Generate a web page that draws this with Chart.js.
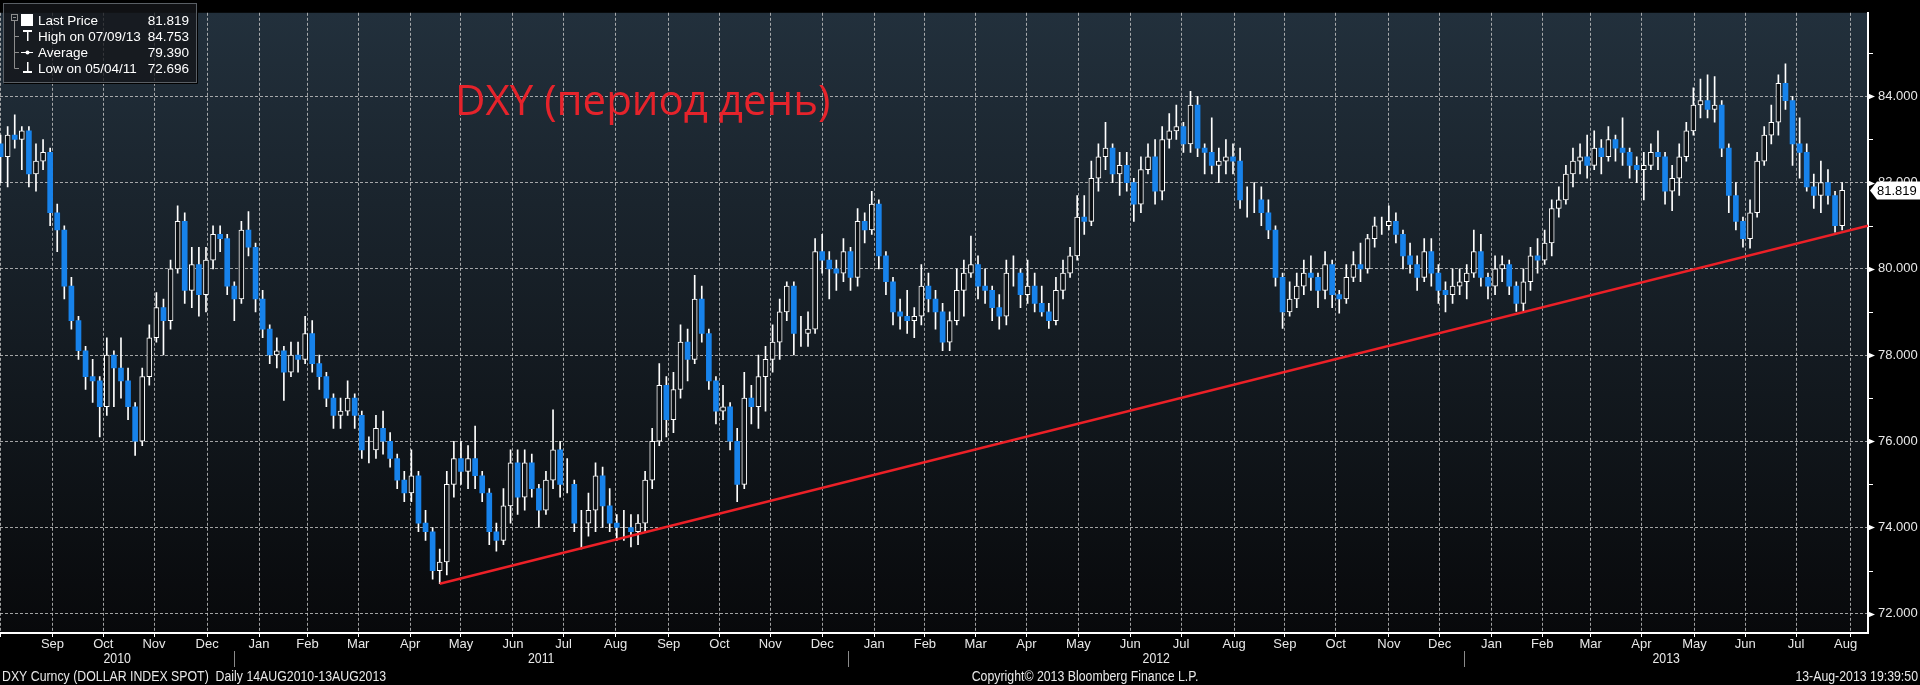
<!DOCTYPE html>
<html>
<head>
<meta charset="utf-8">
<title>DXY Curncy</title>
<script src="https://cdn.jsdelivr.net/npm/chart.js@4.4.1/dist/chart.umd.min.js"></script>
<style>
  html, body { margin: 0; padding: 0; background: #000; overflow: hidden; }
  #wrap { width: 1920px; height: 685px; }
</style>
</head>
<body>
<div id="wrap"><canvas id="chart" width="1920" height="685"></canvas></div>
<script>
const opens = [
  82.9,82.6,83.1,83.0,83.2,82.2,82.5,82.7,81.3,80.9, 79.6,78.8,78.1,77.5,77.4,76.8,78.0,77.7,77.4,76.8,
  76.0,77.5,78.4,79.1,78.8,80.0,81.1,79.5,80.1,79.4, 80.2,80.8,80.7,79.6,79.3,80.9,80.5,79.3,78.6,78.0,
  78.1,77.6,78.0,77.9,78.5,77.8,77.5,77.0,76.6,76.7, 77.0,76.6,75.8,75.8,76.3,76.0,75.6,75.1,74.8,75.2,
  74.1,73.9,73.0,73.2,75.0,75.6,75.3,75.6,75.2,74.8, 73.9,73.7,74.5,75.5,74.7,75.5,74.9,74.4,75.1,75.8,
  75.0,75.0,74.1,74.1,74.4,75.2,74.5,74.1,74.0,74.0, 73.9,74.1,75.1,76.0,77.3,76.5,77.2,78.3,77.9,79.3,
  78.5,77.4,76.7,76.8,76.0,75.0,77.0,76.8,77.5,77.9, 78.3,79.0,79.6,78.5,78.5,78.6,80.4,80.2,80.0,79.9,
  80.4,79.8,81.1,80.9,81.5,80.3,79.7,79.0,78.9,78.8, 78.9,79.6,79.3,79.0,78.3,78.8,79.5,79.9,80.1,79.6,
  79.5,79.1,78.9,79.9,79.9,79.4,79.6,79.2,79.0,78.8, 79.5,79.9,80.3,81.2,81.1,82.1,82.6,82.8,82.2,82.4,
  82.0,81.5,82.3,82.6,81.8,83.0,83.2,83.3,82.9,83.8, 82.8,82.7,82.4,82.5,82.6,82.5,81.6,81.6,81.6,81.3,
  80.9,79.8,79.0,79.3,79.6,79.9,79.8,79.5,80.1,79.4, 79.3,79.8,80.1,80.0,80.7,81.0,81.0,81.1,80.8,80.3,
  80.1,79.8,80.4,79.9,79.5,79.4,79.6,79.7,79.9,80.4, 79.8,79.6,80.0,80.1,79.6,79.2,79.7,80.3,80.2,80.6,
  81.4,81.6,82.2,82.5,82.6,82.4,82.8,82.6,83.0,82.8, 82.7,82.4,82.3,82.4,82.7,82.6,81.8,82.1,82.6,83.2,
  83.8,83.9,83.7,83.8,82.8,81.7,81.1,80.7,81.3,82.5, 83.1,83.4,84.3,83.9,82.9,82.7,81.9,81.7,82.0,81.7,
  81.0
];
const highs = [
  83.1,83.3,83.57,83.3,83.3,82.9,83.0,82.8,81.5,81.0, 79.8,78.9,78.2,77.9,77.5,78.4,78.1,78.4,77.7,76.9,
  77.7,78.7,79.45,79.3,80.2,81.46,81.3,80.5,80.5,80.5, 81.0,81.0,80.8,79.7,81.1,81.33,80.6,79.5,78.7,78.4,
  78.2,78.3,78.3,78.9,78.8,78.0,77.6,77.1,77.0,77.4, 77.1,76.7,76.1,76.6,76.7,76.2,75.7,75.3,75.8,75.3,
  74.4,74.0,73.5,75.3,76.0,76.0,75.9,76.35,75.3,74.9, 74.1,74.9,75.8,75.8,75.8,75.7,75.0,75.3,76.73,76.0,
  75.6,75.1,74.4,74.8,75.5,75.4,74.9,74.3,74.4,74.3, 74.3,75.3,76.3,77.8,77.5,77.6,78.7,78.6,79.85,79.6,
  78.6,77.5,77.3,76.9,76.3,77.6,77.3,78.0,78.2,78.7, 79.3,79.7,79.7,78.9,79.0,80.7,80.8,80.4,80.2,80.7,
  80.5,81.4,81.3,81.8,81.6,80.4,79.8,79.3,79.5,79.1, 80.1,79.9,79.5,79.2,79.0,80.0,80.2,80.76,80.3,80.0,
  79.6,79.4,80.2,80.3,80.0,80.2,79.9,79.6,79.2,79.8, 80.2,80.5,81.7,81.7,82.5,82.9,83.4,82.9,82.7,82.7,
  82.1,82.6,82.9,83.0,83.3,83.6,83.8,83.4,84.12,84.0, 82.9,83.5,82.8,83.0,82.9,82.8,81.9,82.0,81.9,81.6,
  81.0,79.9,79.7,79.9,80.2,80.3,79.9,80.4,80.2,79.5, 80.1,80.4,80.6,80.8,81.2,81.2,81.46,81.3,80.9,80.6,
  80.3,80.7,80.7,80.1,79.7,80.0,80.0,80.1,80.9,80.8, 79.9,80.3,80.3,80.2,79.7,80.0,80.5,80.7,80.9,81.6,
  81.9,82.4,82.8,82.9,83.1,83.2,83.0,83.3,83.1,83.5, 82.8,82.6,82.7,82.9,83.2,82.7,82.4,82.9,83.4,84.2,
  84.4,84.5,84.46,83.9,82.9,82.0,81.2,81.6,82.7,83.3, 83.8,84.5,84.753,84.0,83.5,82.9,82.2,82.5,82.3,81.8,
  82.0
];
const lows = [
  82.0,81.9,82.8,82.3,81.9,81.8,82.3,81.0,80.4,79.3, 78.6,77.9,77.2,76.9,76.1,76.6,76.8,77.0,76.5,75.67,
  75.9,77.3,78.3,78.0,78.6,79.9,79.2,79.1,78.9,79.0, 80.0,80.4,79.4,78.8,79.2,80.3,79.0,78.4,77.8,77.7,
  76.95,77.5,77.6,77.8,77.6,77.2,76.8,76.3,76.3,76.6, 76.3,75.6,75.5,75.6,75.7,75.4,74.9,74.6,74.6,73.9,
  73.7,72.8,72.696,72.9,74.7,75.0,74.9,74.9,74.6,73.6, 73.45,73.6,74.1,74.3,74.4,74.7,74.0,74.3,74.9,74.7,
  74.8,73.9,73.5,73.8,73.9,74.0,73.9,73.7,73.7,73.55, 73.6,73.9,74.9,75.9,76.1,76.2,77.0,77.4,77.8,78.3,
  77.2,76.4,76.5,75.8,74.6,74.9,76.4,76.3,76.7,77.6, 77.9,78.8,78.0,78.2,78.2,78.5,79.9,79.3,79.5,79.7,
  79.5,79.6,80.6,80.8,80.0,79.4,78.7,78.6,78.5,78.4, 78.7,79.0,78.6,78.1,78.1,78.7,78.9,79.8,79.3,79.2,
  78.8,78.6,78.7,79.6,79.1,79.2,79.0,78.9,78.62,78.7, 79.3,79.8,80.2,80.8,81.0,81.8,82.3,82.0,81.7,81.8,
  81.1,81.3,82.2,81.5,81.6,82.8,83.0,82.7,82.7,82.6, 82.2,82.2,82.0,82.2,82.2,81.4,81.2,81.3,81.0,80.7,
  79.6,78.62,78.9,79.1,79.4,79.5,79.1,79.3,79.1,78.97, 79.2,79.7,79.7,79.9,80.5,80.8,80.9,80.6,80.0,79.9,
  79.5,79.7,79.6,79.2,79.0,79.2,79.4,79.3,79.8,79.6, 79.3,79.4,79.7,79.4,79.01,79.0,79.5,79.9,80.1,80.3,
  81.2,81.5,81.9,82.2,82.1,82.3,82.2,82.5,82.5,82.4, 82.1,82.0,81.6,82.3,82.3,81.5,81.35,81.7,82.5,83.1,
  83.5,83.5,83.4,82.6,81.3,80.9,80.5,80.48,81.2,82.4, 82.9,83.1,83.7,82.4,82.1,81.8,81.4,81.3,81.5,80.85,
  80.9
];
const closes = [
  82.6,83.1,83.0,83.2,82.2,82.5,82.7,81.3,80.9,79.6, 78.8,78.1,77.5,77.4,76.8,78.0,77.7,77.4,76.8,76.0,
  77.5,78.4,79.1,78.8,80.0,81.1,79.5,80.1,79.4,80.2, 80.8,80.7,79.6,79.3,80.9,80.5,79.3,78.6,78.0,78.1,
  77.6,78.0,77.9,78.5,77.8,77.5,77.0,76.6,76.7,77.0, 76.6,75.8,75.8,76.3,76.0,75.6,75.1,74.8,75.2,74.1,
  73.9,73.0,73.2,75.0,75.6,75.3,75.6,75.2,74.8,73.9, 73.7,74.5,75.5,74.7,75.5,74.9,74.4,75.1,75.8,75.0,
  75.0,74.1,74.1,74.4,75.2,74.5,74.1,74.0,74.0,73.9, 74.1,75.1,76.0,77.3,76.5,77.2,78.3,77.9,79.3,78.5,
  77.4,76.7,76.8,76.0,75.0,77.0,76.8,77.5,77.9,78.3, 79.0,79.6,78.5,78.5,78.6,80.4,80.2,80.0,79.9,80.4,
  79.8,81.1,80.9,81.5,80.3,79.7,79.0,78.9,78.8,78.9, 79.6,79.3,79.0,78.3,78.8,79.5,79.9,80.1,79.6,79.5,
  79.1,78.9,79.9,79.9,79.4,79.6,79.2,79.0,78.8,79.5, 79.9,80.3,81.2,81.1,82.1,82.6,82.8,82.2,82.4,82.0,
  81.5,82.3,82.6,81.8,83.0,83.2,83.3,82.9,83.8,82.8, 82.7,82.4,82.5,82.6,82.5,81.6,81.6,81.6,81.3,80.9,
  79.8,79.0,79.3,79.6,79.9,79.8,79.5,80.1,79.4,79.3, 79.8,80.1,80.0,80.7,81.0,81.0,81.1,80.8,80.3,80.1,
  79.8,80.4,79.9,79.5,79.4,79.6,79.7,79.9,80.4,79.8, 79.6,80.0,80.1,79.6,79.2,79.7,80.3,80.2,80.6,81.4,
  81.6,82.2,82.5,82.6,82.4,82.8,82.6,83.0,82.8,82.7, 82.4,82.3,82.4,82.7,82.6,81.8,82.1,82.6,83.2,83.8,
  83.9,83.7,83.8,82.8,81.7,81.1,80.7,81.3,82.5,83.1, 83.4,84.3,83.9,82.9,82.7,81.9,81.7,82.0,81.7,81.0,
  81.819
];

const monthLabels = ['Sep','Oct','Nov','Dec','Jan','Feb','Mar','Apr','May','Jun','Jul','Aug',
                     'Sep','Oct','Nov','Dec','Jan','Feb','Mar','Apr','May','Jun','Jul','Aug',
                     'Sep','Oct','Nov','Dec','Jan','Feb','Mar','Apr','May','Jun','Jul','Aug'];
const yearLabels = ['2010','2011','2012','2013'];
const majorPrices = [72, 74, 76, 78, 80, 82, 84];
const minorPrices = [73, 75, 77, 79, 81, 83, 85];

// trend line through the 05/04/11 low (x in trading days from 16 Aug 2010)
const trendDays = [187, 792];
const trendValues = [72.696, 81.0];

const legendRows = [
  ['Last Price', '81.819'],
  ['High on 07/09/13', '84.753'],
  ['Average', '79.390'],
  ['Low on 05/04/11', '72.696']
];
const titleText = 'DXY (период день)';
const footerLeft = 'DXY Curncy (DOLLAR INDEX SPOT)  Daily 14AUG2010-13AUG2013';
const footerMid = 'Copyright\u00a9 2013 Bloomberg Finance L.P.';
const footerRight = '13-Aug-2013 19:39:50';

// axis ranges
const xMin = 0.76, xMax = 791.96;
const yMin = 71.552, yMax = 85.939;

const axisFamily = '"Liberation Sans", Arial, sans-serif';
const textColor = '#e8e8e8';
const gridColor = 'rgba(200,200,200,0.8)';
const upFill = '#0c1014';
const downFill = '#1782ea';

// weekday count from the first candle (Mon 16 Aug 2010)
const startT = Date.UTC(2010, 7, 16);
function dayIndex(y, m, d) {
  let t = Date.UTC(y, m, d);
  while ([0, 6].includes(new Date(t).getUTCDay())) t += 864e5;
  let n = 0;
  for (let s = startT; s < t; s += 864e5) {
    const wd = new Date(s).getUTCDay();
    if (wd !== 0 && wd !== 6) n++;
  }
  return n;
}

const monthStarts = monthLabels.map((_, i) => dayIndex(2010 + Math.floor((8 + i) / 12), (8 + i) % 12, 1));
const monthMids = monthStarts.map((d, i) => (d + (i + 1 < monthStarts.length ? monthStarts[i + 1] : xMax)) / 2);

const candleX = closes.map((c, i) => 3 * i + 1);
const isUp = closes.map((c, i) => c >= opens[i]);

// condensed text, the terminal font is narrower than anything installed
function narrowText(ctx, text, x, y, align) {
  const sx = 0.88;
  const w = ctx.measureText(text).width * sx;
  const left = align === 'center' ? x - w / 2 : align === 'right' ? x - w : x;
  ctx.save();
  ctx.textAlign = 'left';
  ctx.translate(left, y);
  ctx.scale(sx, 1);
  ctx.fillText(text, 0, 0);
  ctx.restore();
}

const chartBackground = {
  id: 'chartBackground',
  beforeDraw(chart) {
    const { ctx, chartArea: a } = chart;
    ctx.save();
    ctx.fillStyle = '#000';
    ctx.fillRect(0, 0, chart.width, chart.height);
    const g = ctx.createLinearGradient(0, a.top, 0, a.bottom);
    g.addColorStop(0, '#22303c');
    g.addColorStop(1, '#08090b');
    ctx.fillStyle = g;
    ctx.fillRect(a.left, a.top, a.right - a.left, a.bottom - a.top);
    ctx.restore();
  }
};

const bloombergDecor = {
  id: 'bloombergDecor',
  afterDraw(chart) {
    const { ctx, chartArea: a, scales: { x, y } } = chart;
    ctx.save();

    // flags and minor ticks on the price axis
    ctx.fillStyle = '#fff';
    majorPrices.forEach(v => {
      const py = Math.round(y.getPixelForValue(v)) + 0.5;
      ctx.beginPath();
      ctx.moveTo(a.right, py - 3);
      ctx.lineTo(a.right + 7, py);
      ctx.lineTo(a.right, py + 3);
      ctx.closePath();
      ctx.fill();
    });
    minorPrices.forEach(v => {
      const py = Math.round(y.getPixelForValue(v));
      ctx.fillRect(a.right, py, 5, 1);
    });

    // last price tag
    const last = closes[closes.length - 1];
    const ly = y.getPixelForValue(last);
    ctx.beginPath();
    ctx.moveTo(a.right + 2, ly);
    ctx.lineTo(a.right + 9, ly - 9);
    ctx.lineTo(chart.width, ly - 9);
    ctx.lineTo(chart.width, ly + 9);
    ctx.lineTo(a.right + 9, ly + 9);
    ctx.closePath();
    ctx.fill();
    ctx.fillStyle = '#000';
    ctx.font = '13px ' + axisFamily;
    ctx.textAlign = 'left';
    ctx.textBaseline = 'middle';
    ctx.fillText(last.toFixed(3), a.right + 9, ly + 1);

    // years under the months
    ctx.fillStyle = textColor;
    ctx.font = '14px ' + axisFamily;
    const jan = yearLabels.slice(1).map(yr => dayIndex(+yr, 0, 1));
    const bounds = [xMin, ...jan, xMax];
    yearLabels.forEach((yr, k) => {
      const cx = (x.getPixelForValue(bounds[k]) + x.getPixelForValue(bounds[k + 1])) / 2;
      narrowText(ctx, yr, cx, 659, 'center');
    });
    ctx.strokeStyle = '#8a8a8a';
    ctx.lineWidth = 1;
    jan.forEach(d => {
      const px = Math.round(x.getPixelForValue(d)) + 0.5;
      ctx.beginPath();
      ctx.moveTo(px, 651);
      ctx.lineTo(px, 667);
      ctx.stroke();
    });

    // footer
    narrowText(ctx, footerLeft, 2, 677, 'left');
    narrowText(ctx, footerMid, 1085, 677, 'center');
    narrowText(ctx, footerRight, 1918, 677, 'right');

    // legend box
    ctx.fillStyle = 'rgba(20,22,25,0.78)';
    ctx.fillRect(3, 3, 194, 80);
    ctx.strokeStyle = '#5a5f65';
    ctx.strokeRect(3.5, 3.5, 193, 79);
    ctx.strokeStyle = '#000';
    ctx.beginPath();
    ctx.moveTo(197.5, 4); ctx.lineTo(197.5, 83.5); ctx.lineTo(4, 83.5);
    ctx.stroke();

    ctx.strokeStyle = '#8c8c8c';
    ctx.strokeRect(11.5, 14.5, 6, 6);
    ctx.beginPath();
    ctx.moveTo(13, 17.5); ctx.lineTo(16, 17.5);
    ctx.moveTo(14.5, 21); ctx.lineTo(14.5, 68.5);
    [36.5, 52.5, 68.5].forEach(ry => { ctx.moveTo(14.5, ry); ctx.lineTo(19, ry); });
    ctx.stroke();

    ctx.fillStyle = '#fff';
    ctx.fillRect(21, 14, 12, 12);
    ctx.fillRect(23, 30, 9, 2);
    ctx.fillRect(27, 30, 1.5, 11);
    ctx.fillRect(21, 52, 12, 1);
    ctx.beginPath();
    ctx.arc(27.5, 52.5, 2, 0, Math.PI * 2);
    ctx.fill();
    ctx.fillRect(27, 62, 1.5, 10);
    ctx.fillRect(23, 71, 9, 2);

    ctx.font = '13.5px ' + axisFamily;
    ctx.textBaseline = 'alphabetic';
    legendRows.forEach((row, k) => {
      const by = 25 + k * 16;
      ctx.textAlign = 'left';
      ctx.fillText(row[0], 38, by);
      ctx.textAlign = 'right';
      ctx.fillText(row[1], 189, by);
    });

    // red caption
    ctx.fillStyle = '#e5232b';
    ctx.textAlign = 'left';
    ctx.font = '42px "Open Sans", "Noto Sans", sans-serif';
    ctx.fillText(titleText, 455, 115);

    ctx.restore();
  }
};

new Chart(document.getElementById('chart'), {
  type: 'bar',
  data: {
    datasets: [
      {
        type: 'line',
        xAxisID: 'x',
        yAxisID: 'y',
        data: trendDays.map((d, i) => ({ x: d, y: trendValues[i] })),
        borderColor: '#ec2027',
        borderWidth: 2.5,
        pointRadius: 0,
        order: 0
      },
      {
        xAxisID: 'x',
        yAxisID: 'y',
        data: candleX.map((d, i) => ({ x: d, y: [opens[i], closes[i]] })),
        backgroundColor: isUp.map(u => (u ? upFill : downFill)),
        borderColor: isUp.map(u => (u ? '#ffffff' : downFill)),
        borderWidth: isUp.map(u => (u ? 1 : 0)),
        borderSkipped: false,
        barThickness: 5,
        grouped: false,
        order: 1
      },
      {
        xAxisID: 'x',
        yAxisID: 'y',
        data: candleX.map((d, i) => ({ x: d, y: [lows[i], highs[i]] })),
        backgroundColor: '#ffffff',
        borderWidth: 0,
        barThickness: 1,
        grouped: false,
        order: 2
      }
    ]
  },
  options: {
    responsive: false,
    devicePixelRatio: 1,
    animation: false,
    layout: { padding: { left: 0, top: 0, right: 0, bottom: 30 } },
    plugins: { legend: { display: false }, tooltip: { enabled: false } },
    scales: {
      // month-start gridlines and tick marks
      x: {
        type: 'linear',
        position: 'bottom',
        weight: 0,
        min: xMin,
        max: xMax,
        bounds: 'data',
        offset: false,
        afterBuildTicks: s => { s.ticks = monthStarts.map(v => ({ value: v })); },
        afterFit: s => { s.height = 4; },
        grid: { color: gridColor, lineWidth: 1, tickColor: '#ffffff', tickLength: 4 },
        border: { color: '#ffffff', width: 2, dash: [3, 2] },
        ticks: { display: false, autoSkip: false }
      },
      // month names centred in each month
      xl: {
        type: 'linear',
        position: 'bottom',
        weight: 1,
        min: xMin,
        max: xMax,
        bounds: 'data',
        offset: false,
        afterBuildTicks: s => { s.ticks = monthMids.map(v => ({ value: v })); },
        afterFit: s => { s.height = 18; },
        grid: { display: false, drawTicks: false },
        border: { display: false },
        ticks: {
          autoSkip: false,
          maxRotation: 0,
          padding: 0,
          color: textColor,
          font: { family: axisFamily, size: 13, lineHeight: 1.1 },
          callback: (v, i) => monthLabels[i]
        }
      },
      y: {
        type: 'linear',
        position: 'right',
        min: yMin,
        max: yMax,
        bounds: 'data',
        afterBuildTicks: s => { s.ticks = majorPrices.map(v => ({ value: v })); },
        afterFit: s => { s.width = 52; },
        grid: { color: gridColor, lineWidth: 1, tickColor: 'rgba(0,0,0,0)', tickLength: 5 },
        border: { color: '#ffffff', width: 2, dash: [3, 2] },
        ticks: {
          autoSkip: false,
          padding: 5,
          color: textColor,
          font: { family: axisFamily, size: 13 },
          callback: v => v.toFixed(3)
        }
      }
    }
  },
  plugins: [chartBackground, bloombergDecor]
});
</script>
</body>
</html>
